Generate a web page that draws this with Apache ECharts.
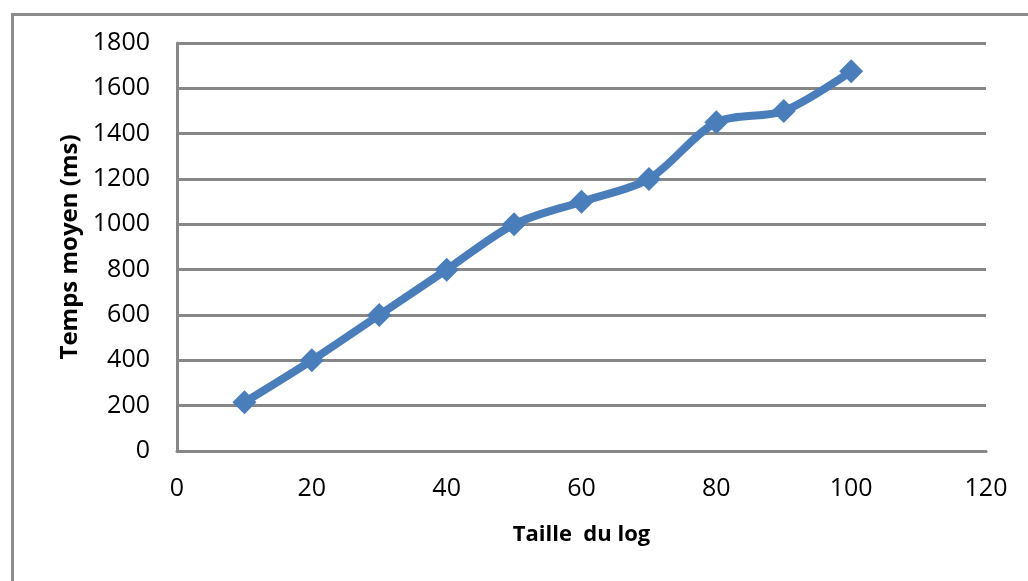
<!DOCTYPE html>
<html>
<head>
<meta charset="utf-8">
<script src="https://cdn.jsdelivr.net/npm/echarts@6/dist/echarts.min.js"></script>
<style>
  html, body { margin: 0; padding: 0; background: #fff; }
  #chart { width: 1028px; height: 581px; }
</style>
</head>
<body>
<div id="chart"></div>
<script>
// Average response time against log size
const logSizes = [10, 20, 30, 40, 50, 60, 70, 80, 90, 100];
const avgTimesMs = [215, 400, 600, 800, 1000, 1100, 1200, 1450, 1500, 1675];

const xAxisTitle = 'Taille  du log';
const yAxisTitle = 'Temps moyen (ms)';

const FONT = '"Open Sans", "Liberation Sans", sans-serif';
const GRID_GRAY = '#878787';
const LINE_BLUE = '#4a7ebb';

const chart = echarts.init(document.getElementById('chart'), null, { renderer: 'canvas' });

chart.setOption({
  backgroundColor: '#ffffff',
  animation: false,
  graphic: [{
    type: 'rect',
    left: 10, top: 12,
    shape: { width: 1040, height: 600 },
    style: { fill: 'none', stroke: '#8c8c8c', lineWidth: 3 },
    silent: true, z: -1
  }],
  grid: { left: 177, right: 42, top: 43, bottom: 130, containLabel: false },
  xAxis: {
    type: 'value',
    min: 0, max: 120, interval: 20,
    name: xAxisTitle,
    nameLocation: 'middle',
    nameGap: 73,
    nameTextStyle: { fontFamily: FONT, fontSize: 22, fontWeight: 'bold', color: '#000' },
    axisLine: { show: true, lineStyle: { color: GRID_GRAY, width: 3 } },
    axisTick: { show: false },
    axisLabel: { fontFamily: FONT, fontSize: 25, color: '#000', margin: 25, formatter: v => String(v) },
    splitLine: { show: false }
  },
  yAxis: {
    type: 'value',
    min: 0, max: 1800, interval: 200,
    name: yAxisTitle,
    nameLocation: 'middle',
    nameGap: 95,
    nameRotate: 90,
    nameTextStyle: { fontFamily: FONT, fontSize: 24, fontWeight: 'bold', color: '#000' },
    axisLine: { show: true, lineStyle: { color: GRID_GRAY, width: 3 } },
    axisTick: { show: false },
    axisLabel: { fontFamily: FONT, fontSize: 25, color: '#000', margin: 27, formatter: v => String(v) },
    splitLine: { show: true, lineStyle: { color: GRID_GRAY, width: 3 } }
  },
  series: [{
    type: 'line',
    data: logSizes.map((x, i) => [x, avgTimesMs[i]]),
    smooth: 0.3,
    symbol: 'diamond',
    symbolSize: 24,
    showAllSymbol: true,
    lineStyle: { color: LINE_BLUE, width: 8 },
    itemStyle: { color: LINE_BLUE, borderColor: LINE_BLUE, borderWidth: 0 },
    z: 5
  }]
});
</script>
</body>
</html>
